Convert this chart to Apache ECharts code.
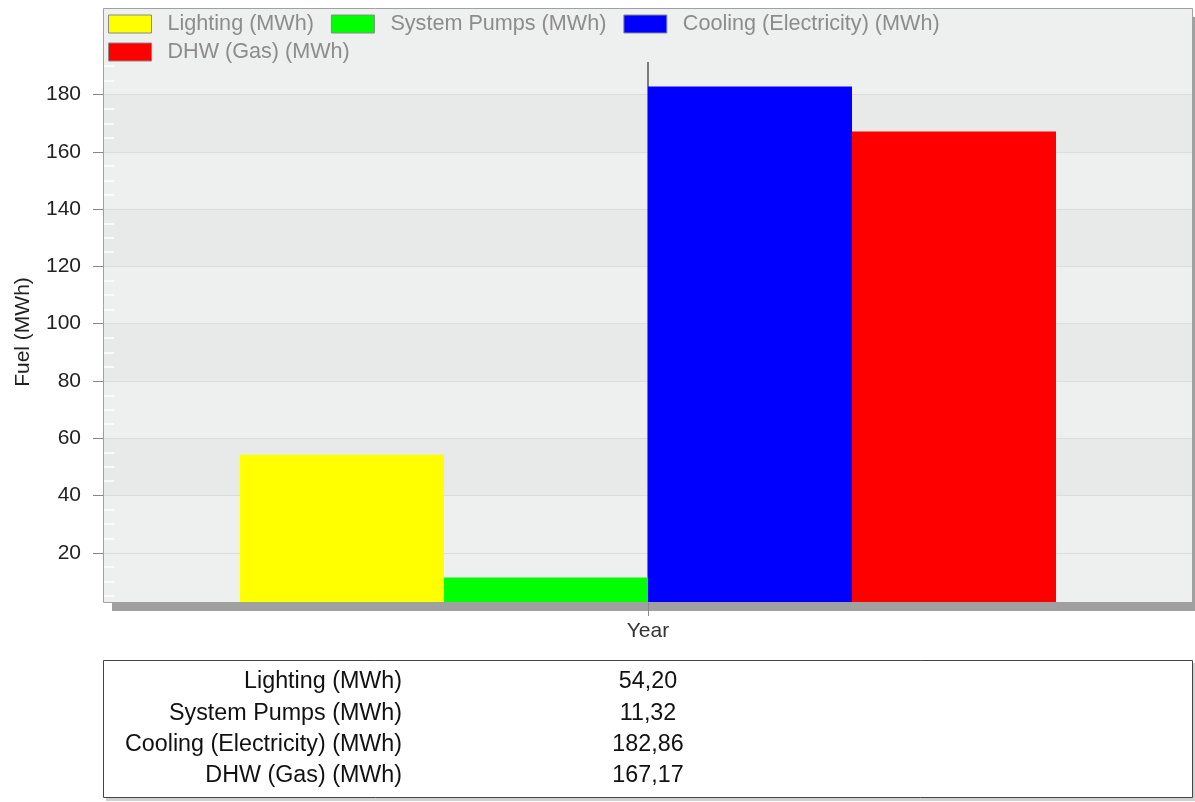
<!DOCTYPE html>
<html>
<head>
<meta charset="utf-8">
<script src="https://cdn.jsdelivr.net/npm/echarts@6/dist/echarts.min.js"></script>
<style>
html, body { margin: 0; padding: 0; background: #fff; }
#chart { width: 1195px; height: 802px; }
</style>
</head>
<body>
<div id="chart"></div>
<script>
// data
const categories = ['Year'];
const seriesNames = ['Lighting (MWh)', 'System Pumps (MWh)', 'Cooling (Electricity) (MWh)', 'DHW (Gas) (MWh)'];
const seriesValues = [54.20, 11.32, 182.86, 167.17];
const seriesColors = ['#ffff00', '#00ff00', '#0000ff', '#ff0000'];
const yTicks = [20, 40, 60, 80, 100, 120, 140, 160, 180];
const yRange = [2.8, 191.4];

const FONT = 'Liberation Sans, Arial, sans-serif';

const chart = echarts.init(document.getElementById('chart'));

// table rows under the chart (text built from the arrays)
const tableRows = [];
seriesNames.forEach((name, i) => {
  const y = 682 + i * 31.3;
  tableRows.push({
    type: 'text', z: 10,
    style: { x: 402, y: y, text: name, align: 'right', verticalAlign: 'middle',
      fontSize: 23.3, fontFamily: FONT, fill: '#111' }
  });
  tableRows.push({
    type: 'text', z: 10,
    style: { x: 648, y: y, text: seriesValues[i].toFixed(2).replace('.', ','), align: 'center',
      verticalAlign: 'middle', fontSize: 23.3, fontFamily: FONT, fill: '#111' }
  });
});

const series = seriesNames.map((name, i) => ({
  name: name,
  type: 'bar',
  data: [seriesValues[i]],
  barGap: '0%',
  barCategoryGap: '25%',
  itemStyle: { color: seriesColors[i] },
  z: 5
}));

const legendBase = {
  left: 108, padding: 0,
  itemWidth: 43, itemHeight: 18, itemGap: 17,
  icon: 'rect',
  itemStyle: { borderColor: '#8a8a8a', borderWidth: 1 },
  textStyle: { color: '#8c8c8c', fontSize: 21.6, fontFamily: FONT, padding: [0, 0, 0, 11] }
};

const option = {
  animation: false,
  textStyle: { fontFamily: FONT },
  graphic: [
    // plot frame with its drop shadow
    {
      type: 'rect', z: -1,
      shape: { x: 103, y: 8, width: 1089, height: 594 },
      style: { fill: '#eeefef', shadowColor: '#a0a0a0', shadowOffsetX: 9, shadowOffsetY: 9, shadowBlur: 0 }
    },
    {
      type: 'rect', z: 100, silent: true,
      shape: { x: 103.5, y: 8.5, width: 1089, height: 594 },
      style: { fill: null, stroke: '#a0a0a0', lineWidth: 1 }
    },
    // table box: shadow, then white box with border
    {
      type: 'rect', z: 1,
      shape: { x: 106, y: 663, width: 1090, height: 138 },
      style: { fill: '#d0d0d0' }
    },
    {
      type: 'rect', z: 2,
      shape: { x: 103.5, y: 660.5, width: 1089, height: 137 },
      style: { fill: '#fff', stroke: '#444', lineWidth: 1 }
    }
  ].concat(tableRows),
  legend: [
    Object.assign({ data: seriesNames.slice(0, 3), top: 13 }, legendBase),
    Object.assign({ data: seriesNames.slice(3), top: 41 }, legendBase)
  ],
  grid: { left: 104, right: 3, top: 62, bottom: 200, containLabel: false },
  xAxis: {
    type: 'category',
    data: categories,
    boundaryGap: true,
    axisLine: { show: false },
    axisTick: { show: true, alignWithLabel: true, length: 14, lineStyle: { color: '#888' } },
    splitLine: { show: true, alignWithLabel: true, lineStyle: { color: '#555', width: 1.5 } },
    axisLabel: { color: '#333', fontSize: 21, fontFamily: FONT, margin: 19 }
  },
  yAxis: {
    type: 'value',
    min: yRange[0],
    max: yRange[1],
    splitNumber: 10,
    name: 'Fuel (MWh)',
    nameLocation: 'middle',
    nameGap: 70,
    nameTextStyle: { color: '#222', fontSize: 21, fontFamily: FONT },
    axisLine: { show: false },
    axisTick: { show: true, length: 11, customValues: yTicks, lineStyle: { color: '#888' } },
    minorTick: { show: true, splitNumber: 4, length: -10, lineStyle: { color: '#ffffff', width: 1.5 } },
    axisLabel: { color: '#222', fontSize: 21, fontFamily: FONT, margin: 23, customValues: yTicks },
    splitLine: { show: true, lineStyle: { color: '#dcdcdc', width: 1 } },
    splitArea: { show: true, areaStyle: { color: ['#eeefef', '#e8e9e9'] } }
  },
  series: series
};

chart.setOption(option);
</script>
</body>
</html>
